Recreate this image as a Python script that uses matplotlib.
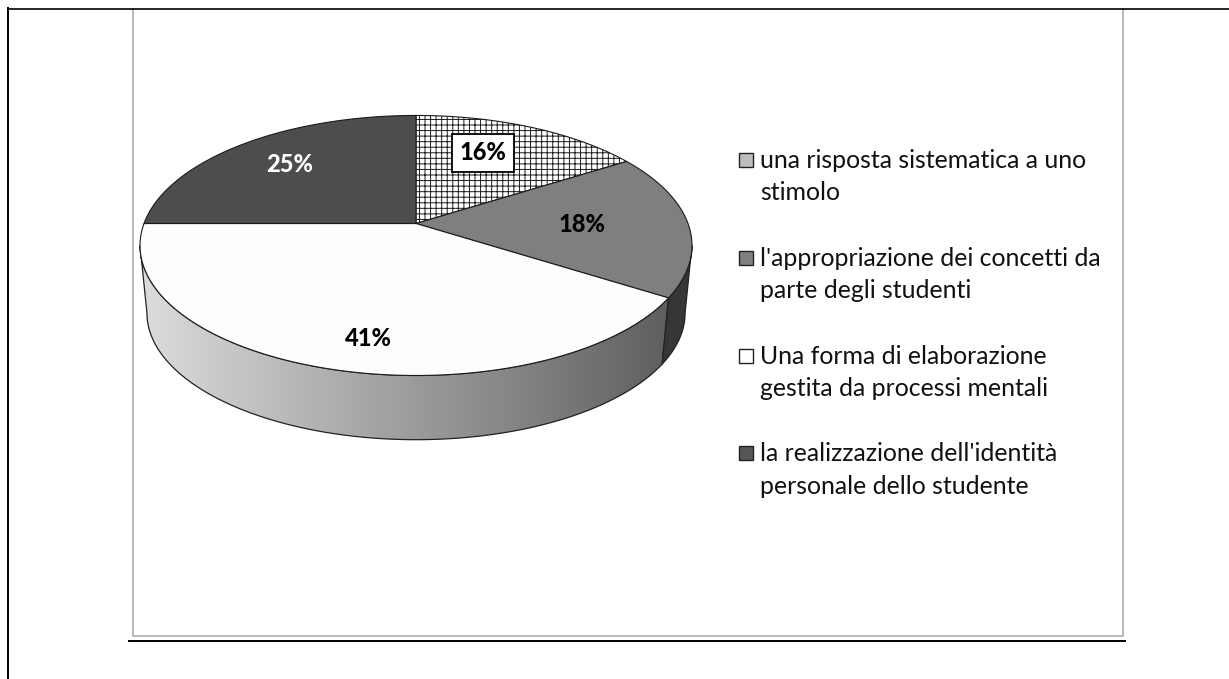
import numpy as np
import matplotlib
matplotlib.use("Agg")
import matplotlib.pyplot as plt
from matplotlib.colors import LinearSegmentedColormap
from matplotlib.patches import Polygon, Rectangle

plt.rcParams['font.family'] = ['Lato', 'DejaVu Sans']
plt.rcParams['hatch.linewidth'] = 0.7

# data, clockwise from 12 o'clock
values = [16, 18, 41, 25]
labels = ['una risposta sistematica a uno\nstimolo',
          "l'appropriazione dei concetti da\nparte degli studenti",
          'Una forma di elaborazione\ngestita da processi mentali',
          "la realizzazione dell'identità\npersonale dello studente"]
top_colors = ['white', '#7f7f7f', '#fdfdfd', '#4d4d4d']
key_colors = ['#bdbdbd', '#808080', 'white', '#555555']

# layout in image pixels
cx, cy = 416.0, 223.5
A, B, k = 272.0, 126.3, 0.169      # perspective of the pie top
depth, shrink = 68.0, 0.975        # the lower rim is a bit smaller
label_pos = [(483, 153), (582, 224), (368, 338), (290, 165)]
key_y = [160, 258, 356, 453]

# where the rim turns away from the viewer
tangent = np.degrees(np.arcsin(k))


def top_rim(theta):
    # theta in degrees clockwise from the top, on the unit disc
    u = np.sin(np.radians(theta))
    v = np.cos(np.radians(theta))
    den = 1 + k * v
    return cx + A * u / den, cy - B * v / den


def low_rim(theta):
    x, y = top_rim(theta)
    return cx + shrink * (x - cx), cy + shrink * (y - cy) + depth


def side_poly(t0, t1):
    t = np.linspace(t0, t1, 120)
    x0, y0 = top_rim(t)
    x1, y1 = low_rim(t[::-1])
    return np.column_stack([np.r_[x0, x1], np.r_[y0, y1]])


fig = plt.figure(figsize=(12.29, 6.79), dpi=100)
ax = fig.add_axes([0, 0, 1, 1])

# page lines and chart frame
ax.plot([133, 133, 1122.5, 1122.5], [9, 636, 636, 9], color='#a6a6a6', lw=1.1)
ax.plot([8, 1229], [8.7, 8.7], color='black', lw=1.2)
ax.plot([8, 8], [8, 679], color='black', lw=1.4)
ax.plot([129, 1125], [640.5, 640.5], color='black', lw=1.4)

edges = np.r_[0, np.cumsum(values)] / np.sum(values) * 360

# sides, only the front ones show
ramp = np.linspace(0, 1, 256).reshape(1, -1)
side_cmap = LinearSegmentedColormap.from_list('side', ['#dcdcdc', '#b2b2b2', '#8a8a8a', '#5f5f5f'])
side = Polygon(side_poly(edges[2], 270 - tangent), closed=True, fc='none', ec='#222222', lw=0.9, zorder=2)
ax.add_patch(side)
im = ax.imshow(ramp, cmap=side_cmap, extent=[141, 668, 450, 220], aspect='auto', zorder=1)
im.set_clip_path(side)
ax.add_patch(Polygon(side_poly(90 + tangent, edges[2]), closed=True, fc='#363636', ec='#222222',
                     lw=0.9, zorder=3))

# top of the pie
for i, val in enumerate(values):
    t = np.linspace(edges[i], edges[i + 1], 150)
    x, y = top_rim(t)
    pts = np.column_stack([np.r_[cx, x], np.r_[cy, y]])
    ax.add_patch(Polygon(pts, closed=True, fc=top_colors[i], ec='#1a1a1a', lw=0.8, zorder=4,
                         hatch='+++' if i == 0 else None, joinstyle='round'))

# percent labels
for i, val in enumerate(values):
    box = None
    if i == 0:
        box = dict(boxstyle='square,pad=0.33', fc='white', ec='black', lw=1.3)
    ax.text(label_pos[i][0], label_pos[i][1], '%d%%' % val, ha='center', va='center', fontsize=17,
            fontweight='black', color='white' if i == 3 else 'black', bbox=box, zorder=6)

# legend
for i, lab in enumerate(labels):
    ax.add_patch(Rectangle((738.5, key_y[i] - 7), 14, 14, fc=key_colors[i], ec='#222222', lw=1.0, zorder=5))
    ax.text(760, key_y[i] - 11, lab, ha='left', va='top', fontsize=17.9, linespacing=1.5,
            color='#111111', zorder=5)

ax.set_xlim(0, 1229)
ax.set_ylim(679, 0)
ax.axis('off')

fig.savefig('out.png', dpi=100)
